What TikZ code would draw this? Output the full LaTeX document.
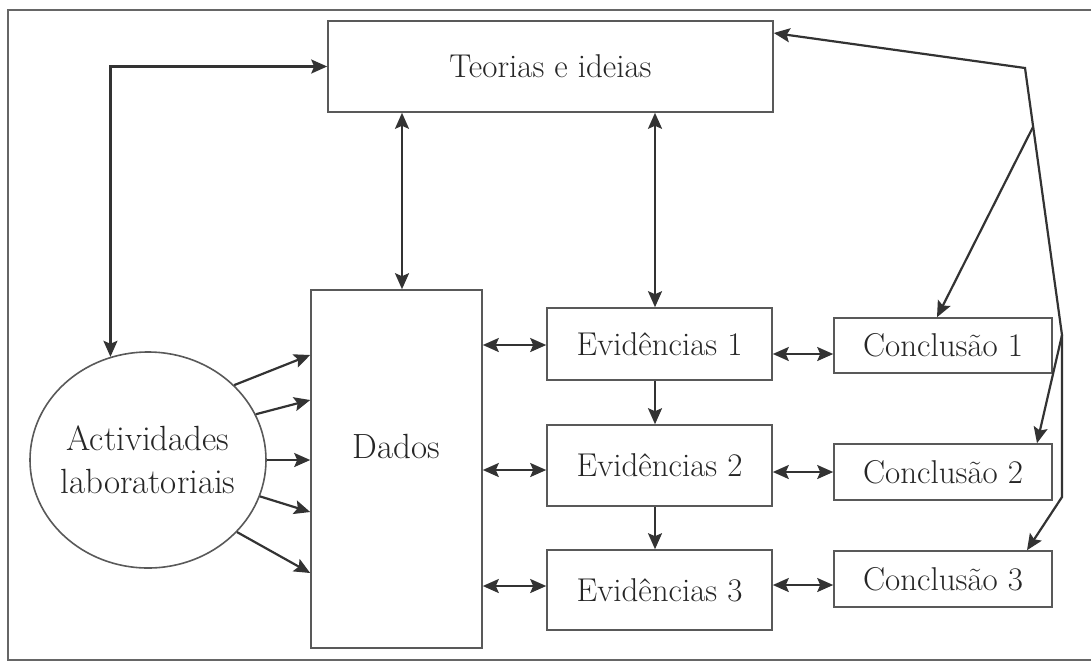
\documentclass[tikz,border=0pt]{standalone}
\usetikzlibrary{arrows.meta,shapes.geometric}
\begin{document}
\begin{tikzpicture}[x=0.5pt,y=-0.5pt,
    box/.style={draw=black!65,line width=0.8pt,text=black!85,inner sep=0pt,
      font=\fontsize{16.5}{20}\selectfont},
    link/.style={draw=black!80,line width=1.1pt,line join=miter,
      -{Stealth[length=8pt,width=7pt,inset=1.5pt]}},
    both/.style={link,{Stealth[length=8pt,width=7pt,inset=1.5pt]}-{Stealth[length=8pt,width=7pt,inset=1.5pt]}}]
  \useasboundingbox (0,0) rectangle (1091,665);
  \draw[black!60,line width=0.6pt] (1091,10) -| (8,660) -- (1091,660);
  \draw
    (550.5,66.5) node[box,minimum width=222.5pt,minimum height=45.5pt] (teo){Teorias e ideias}
    (396.5,469) node[box,minimum width=85.5pt,minimum height=179pt,
      font=\fontsize{17.5}{20}\selectfont,text height=12pt,text depth=23pt] (dad){Dados}
    (148,460) node[box,ellipse,minimum width=118pt,minimum height=108pt,inner sep=-16pt,
      align=center,font=\fontsize{17.5}{21.5}\selectfont] (act){Actividades\\laboratoriais}
    (659.5,344) node[box,minimum width=112.5pt,minimum height=36pt] (ev1){Evid\^encias 1}
    (659.5,465.5) node[box,minimum width=112.5pt,minimum height=40.5pt] (ev2){Evid\^encias 2}
    (659.5,590) node[box,minimum width=112.5pt,minimum height=40pt] (ev3){Evid\^encias 3}
    (943,345.5) node[box,minimum width=109pt,minimum height=27.5pt] (c1){Conclus\~ao 1}
    (943,472) node[box,minimum width=109pt,minimum height=28pt] (c2){Conclus\~ao 2}
    (943,579) node[box,minimum width=109pt,minimum height=28pt] (c3){Conclus\~ao 3};
  \coordinate (dcol) at (402,0);
  \coordinate (ecol) at (655,0);
  \coordinate (k1) at (1025,68);
  \coordinate (k2) at (1033,127);
  \coordinate (k3) at (1062,335);
  \coordinate (k4) at (1062,497);
  \begin{scope}[both]
    \draw (act.110) |- (teo.west);
    \draw (teo.south -| dcol) to (dad.north -| dcol);
    \draw (teo.south -| ecol) to (ev1.north -| ecol);
    \draw (dad.east |- 0,345) to (ev1.west |- 0,345);
    \draw (dad.east |- 0,470) to (ev2.west |- 0,470);
    \draw (dad.east |- 0,586) to (ev3.west |- 0,586);
    \draw (ev1.east |- 0,354) to (c1.west |- 0,354);
    \draw (ev2.east |- 0,472) to (c2.west |- 0,472);
    \draw (ev3.east |- 0,585) to (c3.west |- 0,585);
    \draw (teo.east |- 0,33) -- (k1) -- (k3) -- (k4) -- (c3.north -| 1027,0);
  \end{scope}
  \begin{scope}[link]
    \draw (ev1.south -| ecol) to (ev2.north -| ecol);
    \draw (ev2.south -| ecol) to (ev3.north -| ecol);
    \draw (k2) to (c1.north -| 937,0);
    \draw (k3) to (c2.north -| 1037,0);
    \draw (act.41) to (dad.west |- 0,355);
    \draw (act.23) to (dad.west |- 0,400);
    \draw (act.0) to (dad.west |- 0,460);
    \draw (act.-18) to (dad.west |- 0,512);
    \draw (act.-39) to (dad.west |- 0,573);
  \end{scope}
\end{tikzpicture}
\end{document}
